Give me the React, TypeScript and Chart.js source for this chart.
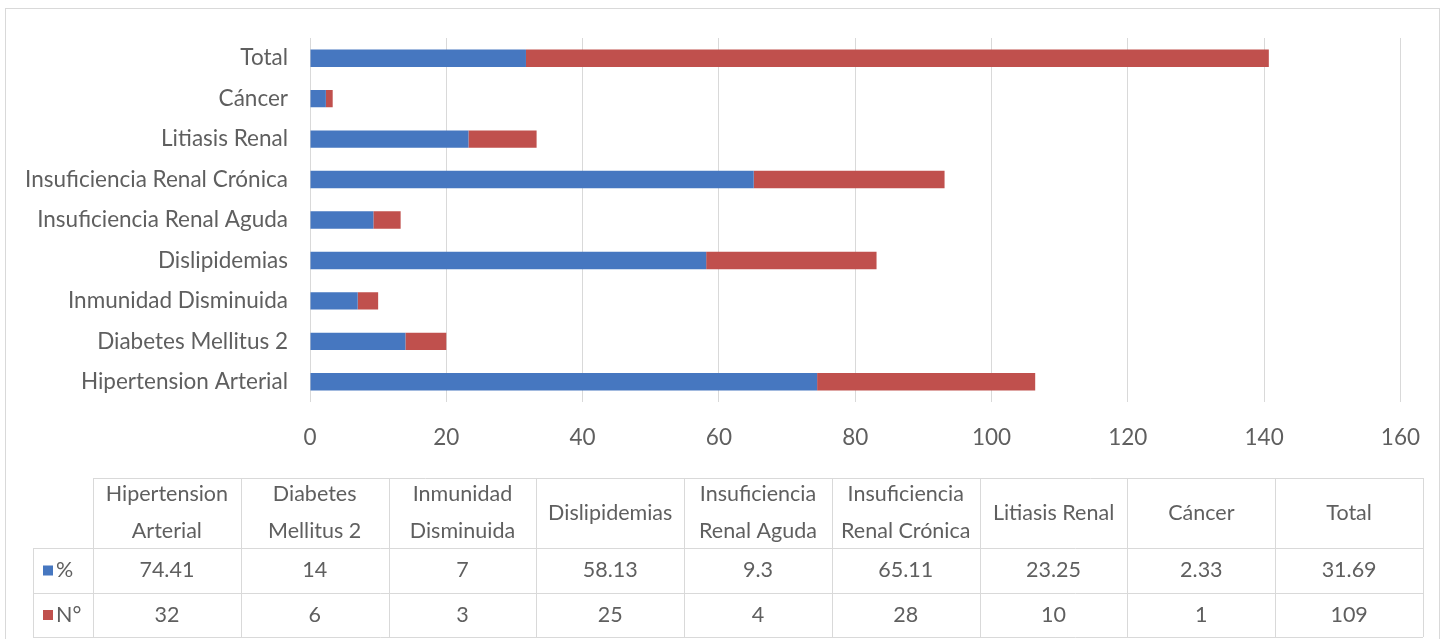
import React, { useEffect, useRef } from "react";
import { Chart, registerables } from "chart.js";

Chart.register(...registerables);

// Conditions, in the order they appear in the data table (bottom to top in the chart)
const categories = [
  "Hipertension Arterial",
  "Diabetes Mellitus 2",
  "Inmunidad Disminuida",
  "Dislipidemias",
  "Insuficiencia Renal Aguda",
  "Insuficiencia Renal Crónica",
  "Litiasis Renal",
  "Cáncer",
  "Total",
];
const percentValues = [74.41, 14, 7, 58.13, 9.3, 65.11, 23.25, 2.33, 31.69];
const countValues = [32, 6, 3, 25, 4, 28, 10, 1, 109];
const percentLabels = ["74.41", "14", "7", "58.13", "9.3", "65.11", "23.25", "2.33", "31.69"];
const countLabels = ["32", "6", "3", "25", "4", "28", "10", "1", "109"];
const seriesNames = ["%", "N°"];
const xTicks = [0, 20, 40, 60, 80, 100, 120, 140, 160];

const BLUE = "#4677C0";
const RED = "#C0504D";
const TEXT = "#5F5F5F";
const GRID = "#D9D9D9";
const FONT = "Lato, 'Open Sans', sans-serif";

const W = 1442;
const H = 639;

// Greedy word wrap for the table header cells
function wrap(ctx: CanvasRenderingContext2D, text: string, maxW: number): string[] {
  const words = text.split(" ");
  const lines: string[] = [];
  let cur = "";
  for (const w of words) {
    const next = cur ? cur + " " + w : w;
    if (cur && ctx.measureText(next).width > maxW) {
      lines.push(cur);
      cur = w;
    } else {
      cur = next;
    }
  }
  if (cur) lines.push(cur);
  return lines;
}

const frameAndTable = {
  id: "frameAndTable",
  beforeDraw(chart: any) {
    const ctx = chart.ctx as CanvasRenderingContext2D;
    ctx.save();
    ctx.fillStyle = "#ffffff";
    ctx.fillRect(0, 0, W, H);
    ctx.strokeStyle = GRID;
    ctx.lineWidth = 1;
    ctx.strokeRect(5.5, 8.5, W - 8, H);
    ctx.restore();
  },
  afterDraw(chart: any) {
    const ctx = chart.ctx as CanvasRenderingContext2D;
    const keyLeft = 33;
    const tLeft = 93;
    const tRight = 1423;
    const rows = [478, 548, 593, 637];
    const n = categories.length;
    const colW = (tRight - tLeft) / n;

    ctx.save();
    ctx.strokeStyle = GRID;
    ctx.lineWidth = 1;
    ctx.beginPath();
    // horizontal rules
    ctx.moveTo(tLeft, rows[0] + 0.5);
    ctx.lineTo(tRight, rows[0] + 0.5);
    for (let r = 1; r < rows.length; r++) {
      ctx.moveTo(keyLeft, rows[r] + 0.5);
      ctx.lineTo(tRight, rows[r] + 0.5);
    }
    // vertical rules
    ctx.moveTo(keyLeft + 0.5, rows[1]);
    ctx.lineTo(keyLeft + 0.5, rows[3]);
    for (let c = 0; c <= n; c++) {
      const x = Math.round(tLeft + c * colW) + 0.5;
      ctx.moveTo(x, rows[0]);
      ctx.lineTo(x, rows[3]);
    }
    ctx.stroke();

    ctx.fillStyle = TEXT;
    ctx.textAlign = "center";
    ctx.textBaseline = "middle";
    ctx.font = `21.5px ${FONT}`;

    // header cells
    categories.forEach((name, i) => {
      const cx = tLeft + (i + 0.5) * colW;
      const lines = wrap(ctx, name, colW - 10);
      const lh = 37;
      const mid = (rows[0] + rows[1]) / 2;
      lines.forEach((ln, k) => {
        ctx.fillText(ln, cx, mid + (k - (lines.length - 1) / 2) * lh);
      });
    });

    // value rows
    const rowTexts = [percentLabels, countLabels];
    rowTexts.forEach((vals, r) => {
      const cy = (rows[r + 1] + rows[r + 2]) / 2;
      vals.forEach((v, i) => {
        ctx.fillText(v, tLeft + (i + 0.5) * colW, cy);
      });
    });

    // legend keys
    const colors = [BLUE, RED];
    ctx.textAlign = "left";
    seriesNames.forEach((s, r) => {
      const cy = (rows[r + 1] + rows[r + 2]) / 2;
      ctx.fillStyle = colors[r];
      ctx.fillRect(43, cy - 5, 10, 10);
      ctx.fillStyle = TEXT;
      ctx.fillText(s, 56, cy);
    });
    ctx.restore();
  },
};

export default function App() {
  const canvasRef = useRef<HTMLCanvasElement | null>(null);

  useEffect(() => {
    const canvas = canvasRef.current;
    if (!canvas) return;
    const chart = new Chart(canvas, {
      type: "bar",
      data: {
        labels: categories,
        datasets: [
          {
            label: seriesNames[0],
            data: percentValues,
            backgroundColor: BLUE,
            borderWidth: 0,
            categoryPercentage: 1,
            barPercentage: 0.43,
          },
          {
            label: seriesNames[1],
            data: countValues,
            backgroundColor: RED,
            borderWidth: 0,
            categoryPercentage: 1,
            barPercentage: 0.43,
          },
        ],
      },
      options: {
        indexAxis: "y",
        responsive: false,
        animation: false,
        layout: { padding: { left: 0, top: 38, right: 32, bottom: H - 402 - 60 } },
        plugins: {
          legend: { display: false },
          tooltip: { enabled: false },
        },
        scales: {
          x: {
            stacked: true,
            min: 0,
            max: 160,
            afterBuildTicks: (scale: any) => {
              scale.ticks = xTicks.map((v) => ({ value: v }));
            },
            afterFit: (scale: any) => {
              scale.height = 60;
            },
            grid: { color: GRID, lineWidth: 1, drawTicks: false },
            border: { display: false },
            ticks: {
              color: TEXT,
              font: { family: FONT, size: 22.5 },
              padding: 22,
              maxRotation: 0,
            },
          },
          y: {
            stacked: true,
            reverse: true,
            afterFit: (scale: any) => {
              scale.width = 310;
            },
            grid: { display: false, drawTicks: false },
            border: { display: false },
            ticks: {
              color: TEXT,
              font: { family: FONT, size: 22.5 },
              padding: 22,
              autoSkip: false,
            },
          },
        },
      },
      plugins: [frameAndTable],
    });
    return () => chart.destroy();
  }, []);

  return (
    <div style={{ position: "absolute", left: 0, top: 0, width: W, height: H, background: "#fff" }}>
      <canvas ref={canvasRef} width={W} height={H} style={{ display: "block" }} />
    </div>
  );
}
